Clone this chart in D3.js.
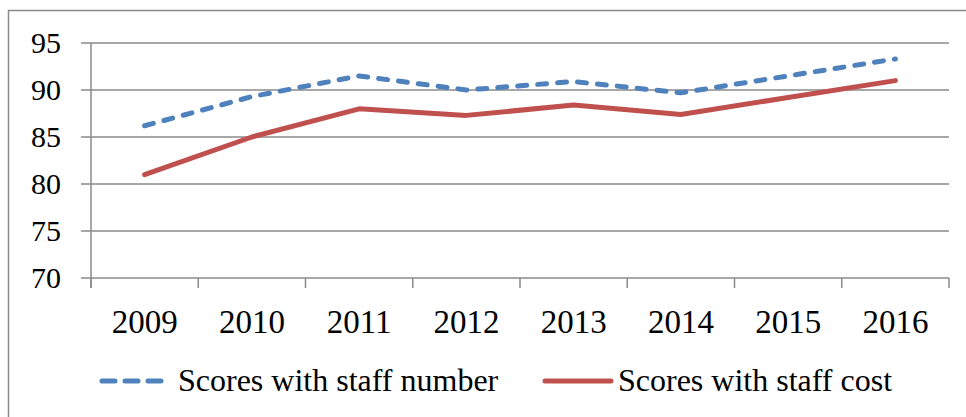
<!DOCTYPE html>
<html>
<head>
<meta charset="utf-8">
<script src="https://cdn.jsdelivr.net/npm/d3@7"></script>
<style>
  body { margin: 0; background: #fff; }
  svg { display: block; }
  text { fill: #000; font-family: "Liberation Serif", "Times New Roman", serif; }
</style>
</head>
<body>
<div class="body"></div>
<script>
const years = ["2009", "2010", "2011", "2012", "2013", "2014", "2015", "2016"];
const staffNumber = [86.2, 89.3, 91.5, 90.0, 90.9, 89.7, 91.5, 93.3];
const staffCost = [81.0, 85.0, 88.0, 87.3, 88.4, 87.4, 89.2, 91.0];
const yTicks = [70, 75, 80, 85, 90, 95];
const seriesNames = ["Scores with staff number", "Scores with staff cost"];

const width = 966, height = 417;
const grid = "#8a8a8a";
const blue = "#4f81bd", red = "#c0504d";

const svg = d3.select(".body").append("svg")
  .attr("width", width)
  .attr("height", height);

// outer chart border (right and bottom edges fall outside the picture)
svg.append("path")
  .attr("d", `M8.5,${height} L8.5,10.5 L${width},10.5`)
  .attr("fill", "none")
  .attr("stroke", grid)
  .attr("stroke-width", 1.5);

const x = d3.scaleBand().domain(years).range([91, 949]);
const y = d3.scaleLinear().domain([70, 95]).range([278, 43]);

// horizontal gridlines + left ticks
svg.append("g")
  .selectAll("line")
  .data(yTicks)
  .join("line")
  .attr("x1", 81)
  .attr("x2", 949)
  .attr("y1", d => y(d))
  .attr("y2", d => y(d))
  .attr("stroke", grid)
  .attr("stroke-width", 1.5);

// y axis line
svg.append("line")
  .attr("x1", 91).attr("x2", 91)
  .attr("y1", y(95)).attr("y2", 288)
  .attr("stroke", grid)
  .attr("stroke-width", 1.5);

// x ticks at band edges
const edges = years.map(d => x(d)).concat([x(years[years.length - 1]) + x.bandwidth()]);
svg.append("g")
  .selectAll("line")
  .data(edges)
  .join("line")
  .attr("x1", d => d).attr("x2", d => d)
  .attr("y1", y(70)).attr("y2", 288)
  .attr("stroke", grid)
  .attr("stroke-width", 1.5);

// y labels
svg.append("g")
  .selectAll("text")
  .data(yTicks)
  .join("text")
  .attr("x", 61)
  .attr("y", d => y(d) + 10)
  .attr("text-anchor", "end")
  .style("font-size", "30px")
  .text(d => d);

// x labels
svg.append("g")
  .selectAll("text")
  .data(years)
  .join("text")
  .attr("x", d => x(d) + x.bandwidth() / 2)
  .attr("y", 333)
  .attr("text-anchor", "middle")
  .style("font-size", "33px")
  .text(d => d);

const line = d3.line()
  .x((d, i) => x(years[i]) + x.bandwidth() / 2)
  .y(d => y(d));

svg.append("path")
  .datum(staffCost)
  .attr("d", line)
  .attr("fill", "none")
  .attr("stroke", red)
  .attr("stroke-width", 5)
  .attr("stroke-linecap", "round")
  .attr("stroke-linejoin", "round");

svg.append("path")
  .datum(staffNumber)
  .attr("d", line)
  .attr("fill", "none")
  .attr("stroke", blue)
  .attr("stroke-width", 5)
  .attr("stroke-dasharray", "9,11")
  .attr("stroke-linecap", "round")
  .attr("stroke-linejoin", "round");

// legend
const legend = svg.append("g");
legend.append("line")
  .attr("x1", 102).attr("x2", 162)
  .attr("y1", 381).attr("y2", 381)
  .attr("stroke", blue)
  .attr("stroke-width", 5)
  .attr("stroke-dasharray", "13,10")
  .attr("stroke-linecap", "round");
legend.append("text")
  .attr("x", 178).attr("y", 391)
  .style("font-size", "32px")
  .text(seriesNames[0]);
legend.append("line")
  .attr("x1", 545).attr("x2", 611)
  .attr("y1", 381).attr("y2", 381)
  .attr("stroke", red)
  .attr("stroke-width", 5)
  .attr("stroke-linecap", "round");
legend.append("text")
  .attr("x", 618).attr("y", 391)
  .style("font-size", "32px")
  .text(seriesNames[1]);
</script>
</body>
</html>
